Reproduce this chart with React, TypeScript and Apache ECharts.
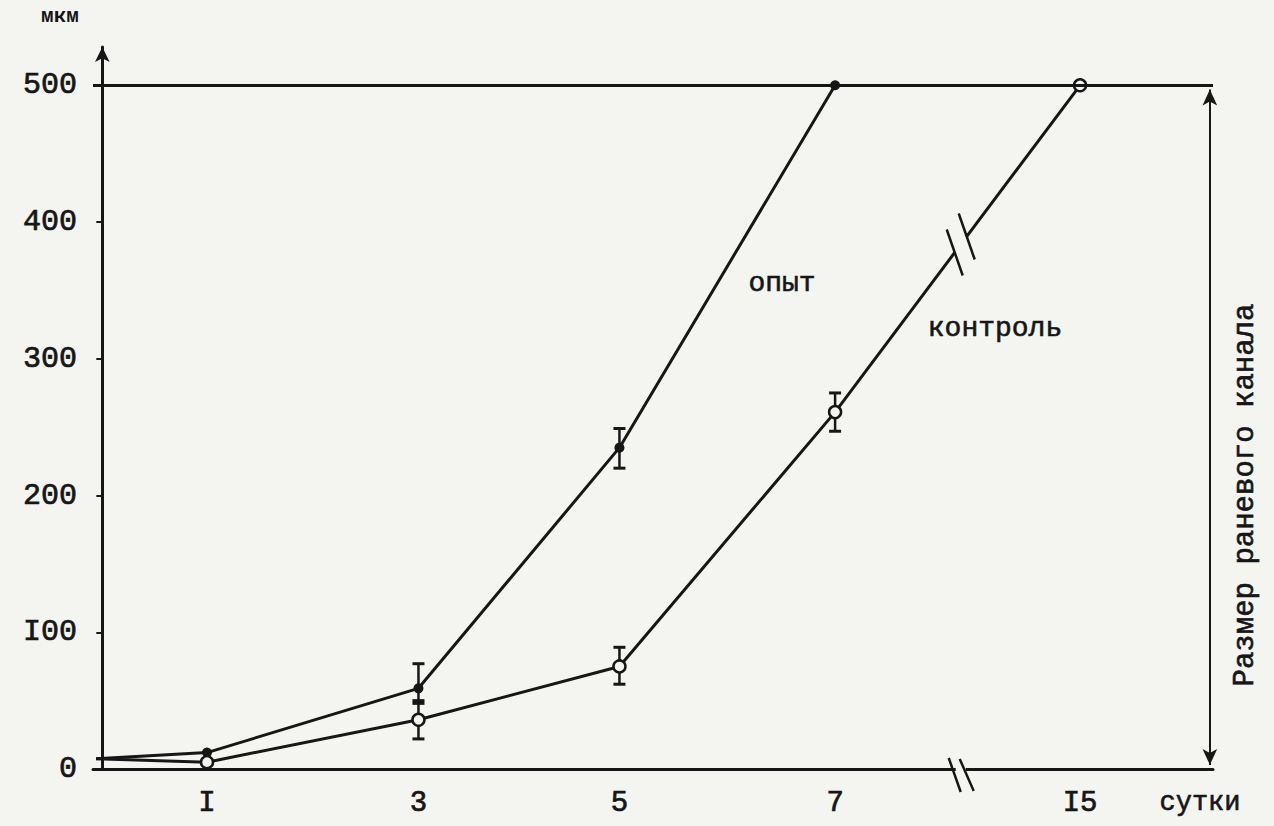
import React, { useEffect, useRef } from "react";
import * as echarts from "echarts";

// ---- data ----
const dayLabels = ["", "I", "3", "5", "7", "I5"];
// axis position of each observation day (15th day sits after the axis break)
const dayPos = [-0.06, 1, 3.02, 4.94, 7, 9.34];
const opyt = [7.5, 12, 59, 235, 500, null];
const kontrol = [7.5, 5, 36, 75, 261, 500];
const opytErrLow = [null, null, 48, 220, null, null];
const opytErrHigh = [null, null, 77, 249, null, null];
const kontrolErrLow = [null, null, 22, 62, 247, null];
const kontrolErrHigh = [null, null, 50, 89, 275, null];
const yTicks = [0, 100, 200, 300, 400, 500];
const yTickLabels = ["0", "I00", "200", "300", "400", "500"];
const limitValue = 500;
const breakPos = 8.2;

const X_MIN = -0.089;
const X_MAX = 10.61;
const Y_MAX = 528;
const INK = "#161616";
const PAPER = "#f4f4f1";
const FONT = "Liberation Mono";

export default function App() {
  const ref = useRef<HTMLDivElement>(null);

  useEffect(() => {
    if (!ref.current) return;
    const chart = echarts.init(ref.current, null, { renderer: "svg" });

    const opytData = dayPos
      .map((x, i) => (opyt[i] == null ? null : { value: [x, opyt[i]], symbol: i === 0 ? "none" : "circle" }))
      .filter(Boolean);
    const kontrolData = dayPos
      .map((x, i) => (kontrol[i] == null ? null : { value: [x, kontrol[i]], symbol: i === 0 ? "none" : "circle" }))
      .filter(Boolean);
    const errData: number[][] = [];
    dayPos.forEach((x, i) => {
      if (opytErrLow[i] != null) errData.push([x, opytErrLow[i] as number, opytErrHigh[i] as number]);
      if (kontrolErrLow[i] != null) errData.push([x, kontrolErrLow[i] as number, kontrolErrHigh[i] as number]);
    });

    const labelVals = dayPos.slice(1);
    const heavy = { textBorderColor: INK, textBorderWidth: 0.7 };

    chart.setOption({
      animation: false,
      backgroundColor: PAPER,
      textStyle: { fontFamily: FONT, color: INK },
      grid: { left: 93, right: 61, top: 47, bottom: 57 },
      xAxis: {
        type: "value",
        min: X_MIN,
        max: X_MAX,
        splitLine: { show: false },
        axisTick: { show: false },
        axisLine: { onZero: false, lineStyle: { color: INK, width: 3 } },
        axisLabel: {
          customValues: labelVals,
          margin: 20,
          fontSize: 29,
          fontFamily: FONT,
          color: INK,
          ...heavy,
          formatter: (v: number) => {
            const i = dayPos.findIndex((p) => Math.abs(p - v) < 1e-6);
            return i >= 0 ? dayLabels[i] : "";
          },
        },
      },
      yAxis: {
        type: "value",
        min: 0,
        max: Y_MAX,
        interval: 100,
        splitLine: { show: false },
        axisLine: {
          lineStyle: { color: INK, width: 3 },
          symbol: ["none", "arrow"],
          symbolSize: [11, 15],
        },
        axisTick: { length: 6, lineStyle: { color: INK, width: 2 } },
        axisLabel: {
          margin: 16,
          fontSize: 30,
          fontFamily: FONT,
          color: INK,
          ...heavy,
          showMaxLabel: false,
          formatter: (v: number) => {
            const i = yTicks.indexOf(v);
            return i >= 0 ? yTickLabels[i] : "";
          },
        },
      },
      series: [
        {
          type: "line",
          name: "limit",
          data: [],
          silent: true,
          markLine: {
            silent: true,
            symbol: ["none", "none"],
            label: { show: false },
            lineStyle: { color: INK, width: 3, type: "solid" },
            data: [
              [{ coord: [X_MIN, limitValue] }, { coord: [X_MAX, limitValue] }],
            ],
          },
        },
        {
          type: "line",
          name: "size",
          data: [],
          silent: true,
          markLine: {
            silent: true,
            symbol: ["arrow", "arrow"],
            symbolSize: [11, 16],
            label: { show: false },
            lineStyle: { color: INK, width: 2, type: "solid" },
            data: [
              [{ coord: [10.58, 3] }, { coord: [10.58, limitValue - 3] }],
            ],
          },
        },
        {
          type: "custom",
          name: "err",
          z: 1,
          data: errData,
          renderItem: (params: any, api: any) => {
            const x = api.value(0);
            const lo = api.coord([x, api.value(1)]);
            const hi = api.coord([x, api.value(2)]);
            const w = 6;
            const st = { stroke: INK, lineWidth: 2.5 };
            return {
              type: "group",
              children: [
                { type: "line", shape: { x1: lo[0], y1: lo[1], x2: hi[0], y2: hi[1] }, style: st },
                { type: "line", shape: { x1: lo[0] - w, y1: lo[1], x2: lo[0] + w, y2: lo[1] }, style: { stroke: INK, lineWidth: 3 } },
                { type: "line", shape: { x1: hi[0] - w, y1: hi[1], x2: hi[0] + w, y2: hi[1] }, style: { stroke: INK, lineWidth: 3 } },
              ],
            };
          },
        },
        {
          type: "line",
          name: "опыт",
          z: 3,
          data: opytData,
          symbolSize: 10,
          lineStyle: { color: INK, width: 3 },
          itemStyle: { color: INK },
        },
        {
          type: "line",
          name: "контроль",
          z: 3,
          data: kontrolData,
          symbolSize: 12,
          lineStyle: { color: INK, width: 3 },
          itemStyle: { color: PAPER, borderColor: INK, borderWidth: 2.5 },
        },
      ],
    });

    // break marks (decorations) located through the chart's scales
    const p7 = chart.convertToPixel({ gridIndex: 0 }, [dayPos[4], kontrol[4] as number]) as number[];
    const p15 = chart.convertToPixel({ gridIndex: 0 }, [dayPos[5], kontrol[5] as number]) as number[];
    const bx = chart.convertToPixel({ gridIndex: 0 }, [breakPos, 0]) as number[];
    const t = (bx[0] - p7[0]) / (p15[0] - p7[0]);
    const cx = p7[0] + t * (p15[0] - p7[0]);
    const cy = p7[1] + t * (p15[1] - p7[1]);
    const len = Math.hypot(p15[0] - p7[0], p15[1] - p7[1]);
    const ux = (p15[0] - p7[0]) / len;
    const uy = (p15[1] - p7[1]) / len;
    const g = 10;
    const markSt = { stroke: INK, lineWidth: 2.5 };
    const slash = (x: number, y: number, dx: number, dy: number) => ({
      type: "line",
      shape: { x1: x - dx, y1: y - dy, x2: x + dx, y2: y + dy },
      style: markSt,
      z: 10,
    });
    const txt = (x: number, y: number, text: string, size: number, extra: any = {}) => ({
      type: "text",
      x,
      y,
      z: 10,
      ...extra,
      style: {
        text,
        font: `${size}px "${FONT}"`,
        fill: INK,
        stroke: INK,
        lineWidth: 0.6,
        align: "center",
        verticalAlign: "middle",
      },
    });

    chart.setOption({
      graphic: [
        {
          type: "line",
          shape: { x1: cx - ux * g, y1: cy - uy * g, x2: cx + ux * g, y2: cy + uy * g },
          style: { stroke: PAPER, lineWidth: 6 },
          z: 9,
        },
        slash(cx - ux * g, cy - uy * g, 8, 23),
        slash(cx + ux * g, cy + uy * g, 8, 23),
        {
          type: "line",
          shape: { x1: bx[0] - 5, y1: bx[1], x2: bx[0] + 5, y2: bx[1] },
          style: { stroke: PAPER, lineWidth: 6 },
          z: 9,
        },
        slash(bx[0] - 6, bx[1] + 6, 6, 17),
        slash(bx[0] + 6, bx[1] + 6, 7, 16),
        {
          type: "text",
          x: 60,
          y: 16,
          z: 10,
          style: { text: "мкм", font: `bold 21px "${FONT}"`, fill: INK, align: "center", verticalAlign: "middle" },
        },
        txt(782, 283, "опыт", 28),
        txt(995, 328, "контроль", 28),
        txt(1200, 803, "сутки", 27),
        txt(1245, 495, "Размер раневого канала", 29, { rotation: Math.PI / 2 }),
      ],
    });

    return () => chart.dispose();
  }, []);

  return <div ref={ref} style={{ position: "fixed", left: 0, top: 0, width: 1274, height: 826 }} />;
}
